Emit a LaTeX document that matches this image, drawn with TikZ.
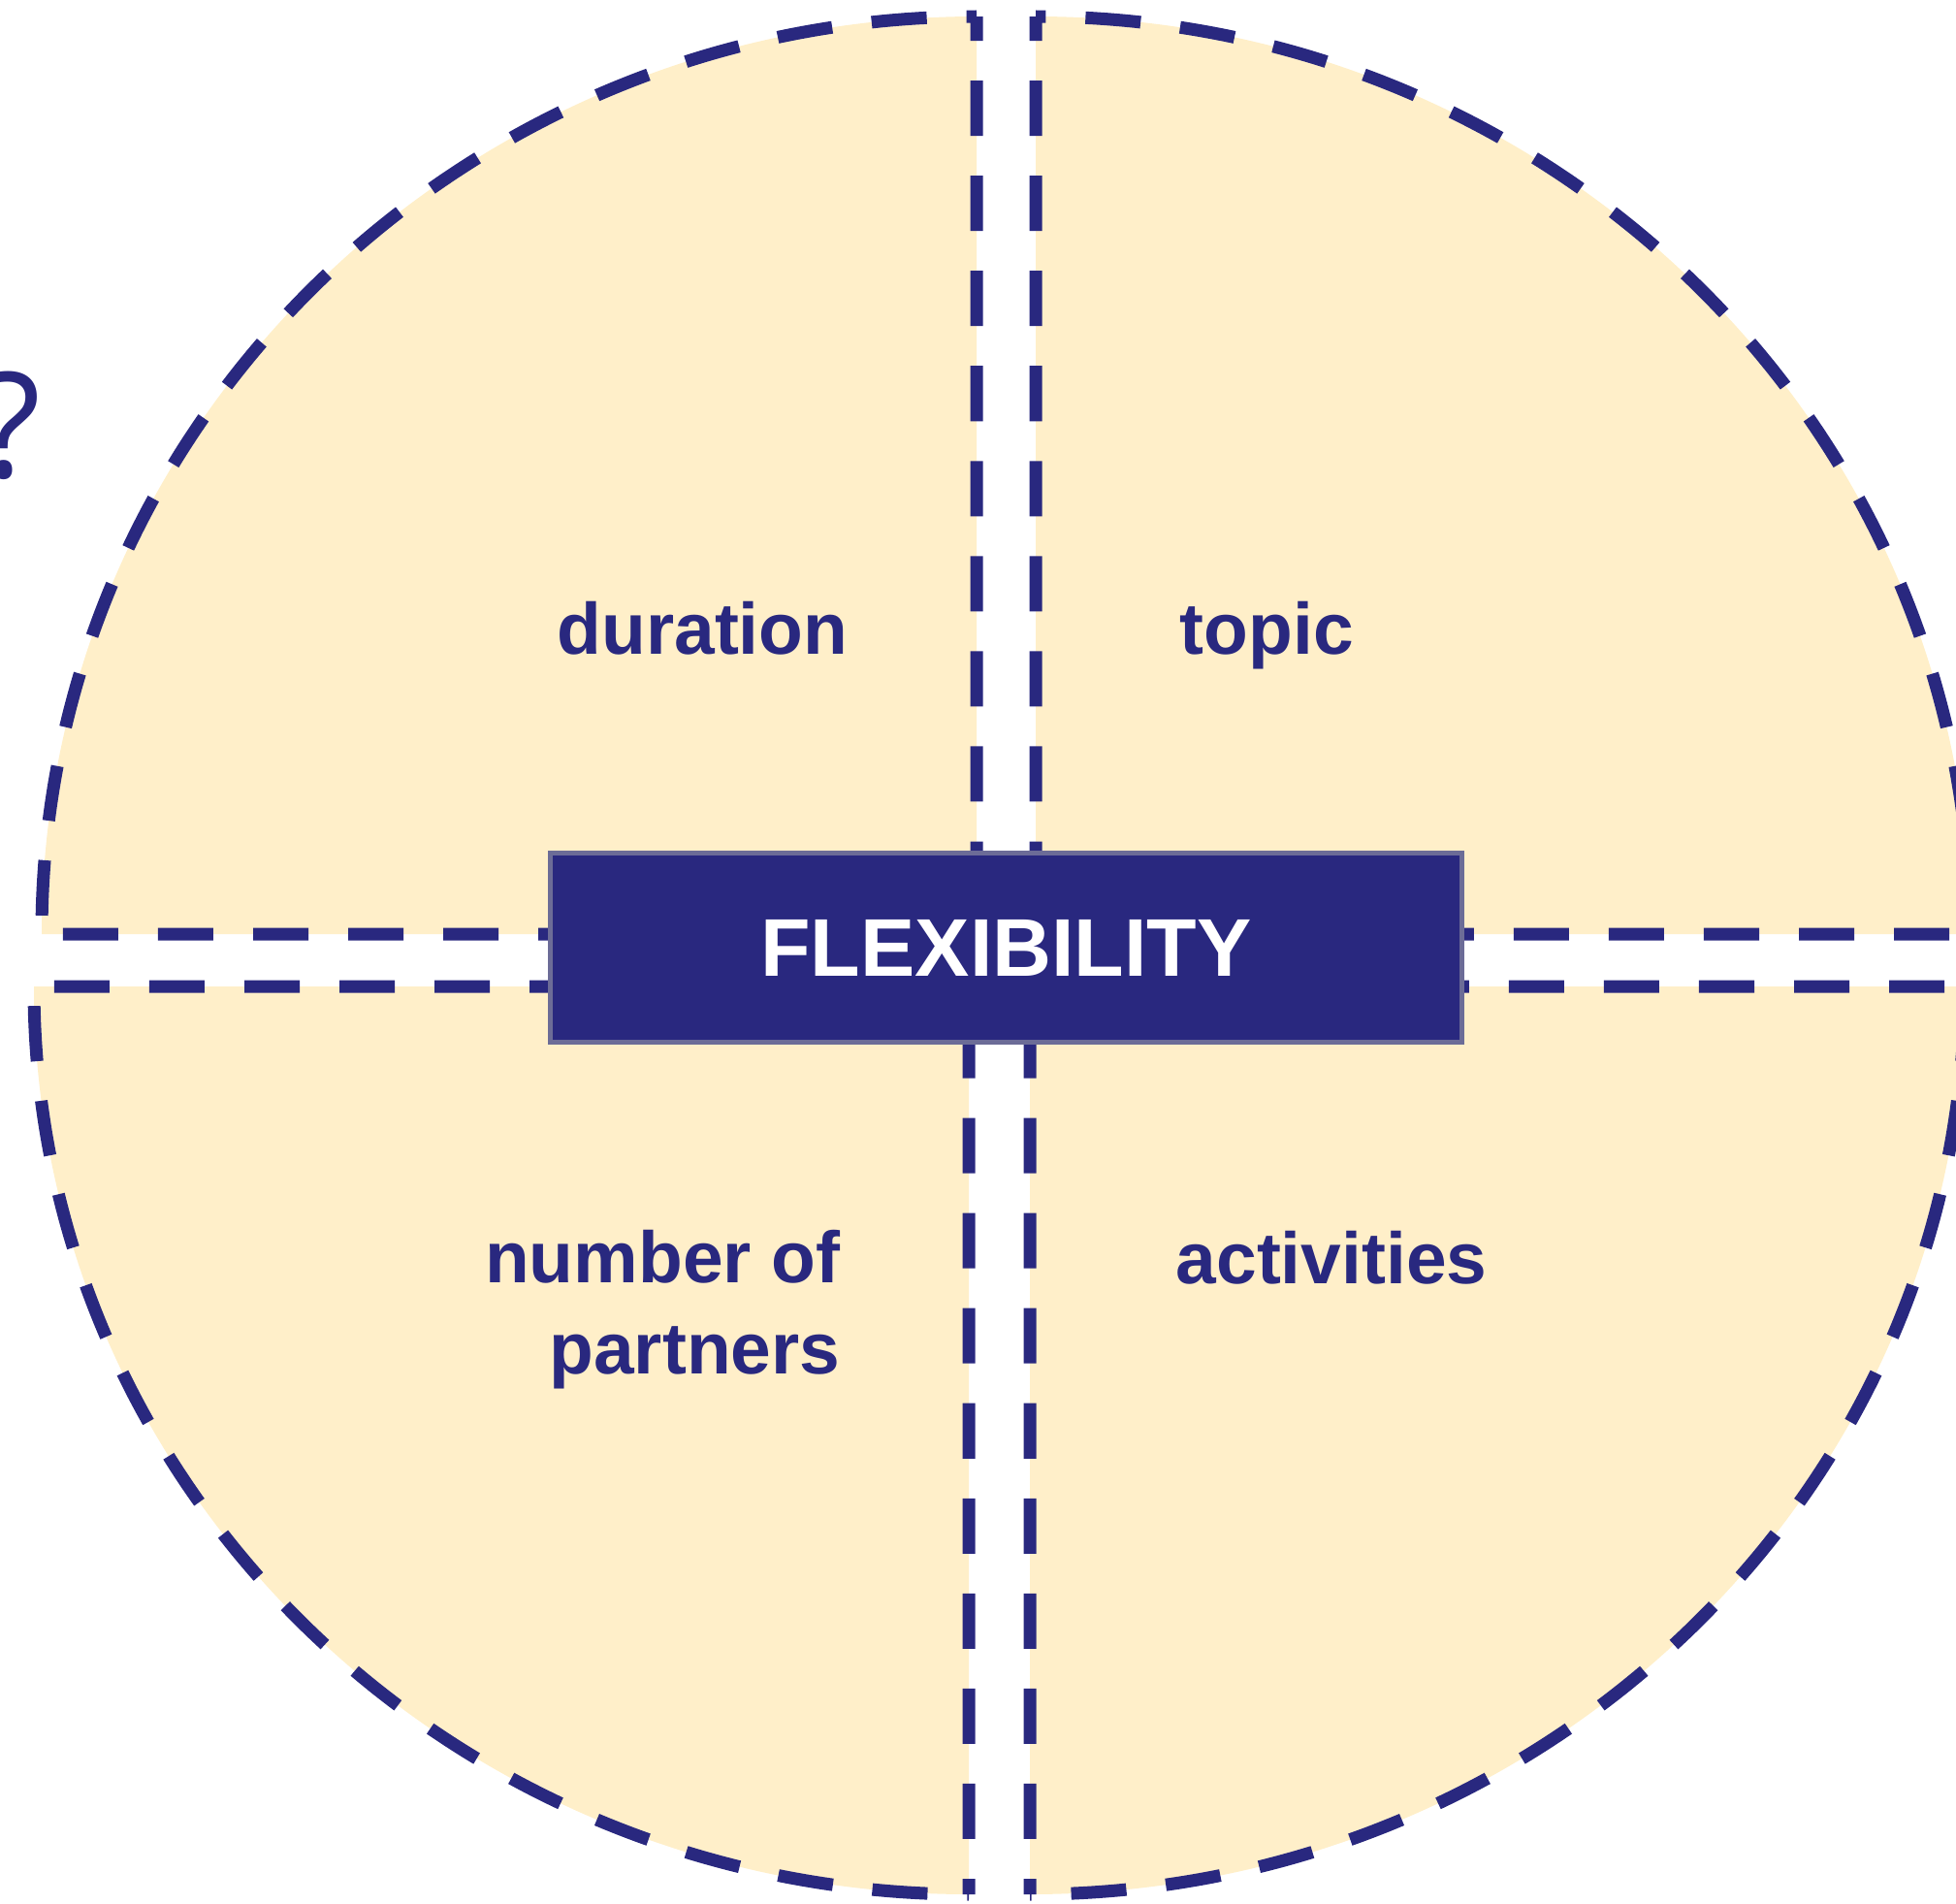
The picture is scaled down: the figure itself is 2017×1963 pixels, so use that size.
\documentclass[tikz,border=0pt]{standalone}
\usepackage{fontspec}
\setmainfont{Liberation Sans}
\newfontfamily\qmarkfont{Open Sans}
\definecolor{navy}{HTML}{29287F}
\definecolor{cream}{HTML}{FFEFC9}
\definecolor{boxedge}{HTML}{6C6C97}
\begin{document}
\begin{tikzpicture}[x=0.01cm, y=0.01cm,
    sector/.style={fill=cream, draw=navy, line width=0.13cm, dash pattern=on 0.57cm off 0.41cm},
    tag/.style={text=navy, inner sep=0, font=\fontsize{21.3pt}{26.7pt}\selectfont\bfseries},
    flexbox/.style={fill=navy, draw=boxedge, line width=0.05cm, minimum width=9.40cm, minimum height=1.95cm,
        text=white, inner sep=0, font=\fontsize{24pt}{28pt}\selectfont\bfseries}]
\newcommand\radx{964}
\useasboundingbox (0, 0) rectangle (2017, -1963);
\clip (0, 0) rectangle (2017, -1963);

% four quarters, pulled apart a little
\draw [sector, dash phase=0.32cm] (1007, -17) -- (1007, -963) -- (43, -963)
    arc [start angle=180, end angle=90, x radius=\radx, y radius=946] -- cycle;
\draw [sector, dash phase=0.32cm] (1068, -17) -- (1068, -963) -- (2032, -963)
    arc [start angle=0, end angle=90, x radius=\radx, y radius=946] -- cycle;
\draw [sector, dash phase=0.41cm] (999, -1953) -- (999, -1017) -- (35, -1017)
    arc [start angle=180, end angle=270, x radius=\radx, y radius=936] -- cycle;
\draw [sector, dash phase=0.41cm] (1062, -1953) -- (1062, -1017) -- (2026, -1017)
    arc [start angle=0, end angle=-90, x radius=\radx, y radius=936] -- cycle;

\node (flex) at (1037.5, -977) [flexbox] {FLEXIBILITY};

\node (duration) at (875, -674) [tag, anchor=base east] {duration};
\node (topic) at (1216, -674) [tag, anchor=base west] {topic};
\node (partners) at (867, -1268) [tag, anchor=north east, align=right] {number of\\partners};
\node (activities) at (1212, -1323) [tag, anchor=base west] {activities};

\node (qmark) at (43, -492) [anchor=base east, inner sep=0, text=navy, font=\qmarkfont\fontsize{43pt}{50pt}\selectfont] {?};

\end{tikzpicture}
\end{document}
